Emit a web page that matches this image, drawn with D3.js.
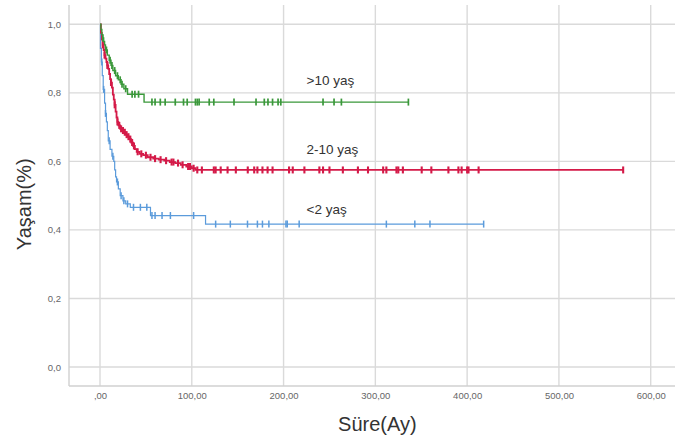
<!DOCTYPE html>
<html>
<head>
<meta charset="utf-8">
<script src="https://cdn.jsdelivr.net/npm/d3@7"></script>
<style>
  html, body { margin: 0; padding: 0; background: #fff; }
  svg { display: block; font-family: Arial, "Liberation Sans", sans-serif; }
</style>
</head>
<body>
<svg id="chart" width="675" height="446"></svg>
<script>
// Kaplan–Meier survival by age group (time in months)
const groups = [">10 yaş", "2-10 yaş", "<2 yaş"];
const colors = ["#3a983a", "#d41a48", "#5b9bdb"];
const strokeWidths = [1.4, 1.8, 1.2];

// step times and survival after each step
const olderTimes = [0, 1, 2, 3, 4, 5, 6, 8, 10, 12, 14, 17, 20, 23, 26, 30, 48];
const olderSurv  = [1.0, 0.985, 0.97, 0.96, 0.95, 0.94, 0.925, 0.91, 0.895, 0.88, 0.865, 0.85, 0.838, 0.825, 0.812, 0.796, 0.773];
const olderEnd = 336;
const olderCensor = [3, 7, 11, 13, 16, 19, 22, 24, 28, 35, 38, 42, 56.6, 60, 65.7, 71, 82, 91, 95, 104, 106, 108,
  119, 124, 146, 170, 179, 183, 188, 194, 197, 243, 255, 263, 336];

const midTimes = [0, 1, 2, 3, 4, 5, 6, 7, 8, 9, 10, 11, 12, 13, 14, 15, 16, 17, 18, 19, 20, 22, 24, 26, 28, 30,
  32, 34, 36, 38, 40, 43, 47, 52, 58, 64, 70, 76, 82, 88, 94, 100, 104];
const midSurv = [1.0, 0.975, 0.955, 0.94, 0.925, 0.91, 0.9, 0.89, 0.88, 0.87, 0.855, 0.84, 0.83, 0.815, 0.795,
  0.78, 0.765, 0.745, 0.728, 0.715, 0.705, 0.695, 0.69, 0.685, 0.678, 0.672, 0.665, 0.655, 0.645, 0.636, 0.628,
  0.622, 0.618, 0.612, 0.608, 0.605, 0.602, 0.598, 0.595, 0.59, 0.585, 0.58, 0.575];
const midEnd = 570;
const midCensor = [3, 5, 8, 12, 16, 19, 21, 23, 25, 27, 29, 31, 33, 35, 37, 41, 45, 50, 55, 60, 66, 72, 78, 80,
  85, 90, 96, 98, 102, 106, 111, 124, 126, 131.5, 139, 148, 161, 168, 171.5, 177, 182.6, 188, 206, 210, 222.7,
  239, 243, 250, 264.6, 281, 292, 308.5, 312, 323, 325, 330, 350.5, 361, 379.6, 390.5, 394, 400, 401.5, 412.5, 570];

const youngTimes = [0, 0.5, 1.5, 2.5, 3.5, 5, 6, 7, 8, 9, 11, 13, 15, 16, 17, 18, 20, 22, 25, 28, 33, 55, 115];
const youngSurv  = [1.0, 0.93, 0.89, 0.85, 0.81, 0.77, 0.74, 0.715, 0.69, 0.66, 0.635, 0.615, 0.6, 0.575, 0.555,
  0.54, 0.52, 0.5, 0.485, 0.476, 0.466, 0.442, 0.417];
const youngEnd = 418;
const youngCensor = [2, 4, 6, 10, 14, 19, 23, 26, 30, 36.5, 44, 51, 56.6, 60, 67.6, 76.7, 102, 126, 142, 160.7,
  171.5, 177, 184, 202.6, 204, 217, 312, 343, 359.5, 418];

// axis ticks and labels
const xTicks = [0, 100, 200, 300, 400, 500, 600];
const xTickLabels = [",00", "100,00", "200,00", "300,00", "400,00", "500,00", "600,00"];
const yTicks = [0, 0.2, 0.4, 0.6, 0.8, 1.0];
const yTickLabels = ["0,0", "0,2", "0,4", "0,6", "0,8", "1,0"];
const xTitle = "Süre(Ay)";
const yTitle = "Yaşam(%)";

const series = [
  { name: groups[0], color: colors[0], sw: strokeWidths[0], times: olderTimes, surv: olderSurv, end: olderEnd, censor: olderCensor },
  { name: groups[1], color: colors[1], sw: strokeWidths[1], times: midTimes, surv: midSurv, end: midEnd, censor: midCensor },
  { name: groups[2], color: colors[2], sw: strokeWidths[2], times: youngTimes, surv: youngSurv, end: youngEnd, censor: youngCensor }
];

const svg = d3.select("#chart");
const frame = { left: 69, right: 675, top: 5, bottom: 386 };

const x = d3.scaleLinear().domain([0, 600]).range([100, 650.7]);
const y = d3.scaleLinear().domain([0, 1]).range([367, 24.3]);

const grid = svg.append("g").attr("stroke", "#dadada").attr("stroke-width", 1.4);
grid.selectAll("line.gx").data(xTicks).join("line")
  .attr("x1", d => x(d)).attr("x2", d => x(d))
  .attr("y1", frame.top).attr("y2", frame.bottom);
grid.selectAll("line.gy").data(yTicks).join("line")
  .attr("x1", frame.left).attr("x2", frame.right)
  .attr("y1", d => y(d)).attr("y2", d => y(d));

// axis frame lines
svg.append("line").attr("x1", frame.left).attr("x2", frame.left)
  .attr("y1", frame.top).attr("y2", frame.bottom)
  .attr("stroke", "#d0d0d0").attr("stroke-width", 1.4);
svg.append("line").attr("x1", frame.left).attr("x2", frame.right)
  .attr("y1", frame.bottom).attr("y2", frame.bottom)
  .attr("stroke", "#d0d0d0").attr("stroke-width", 1.4);

// axes via d3 axis generators (labels only)
const xAxis = d3.axisBottom(x).tickValues(xTicks)
  .tickFormat((d, i) => xTickLabels[i]).tickSize(0).tickPadding(0);
svg.append("g").attr("transform", `translate(0,${frame.bottom + 6})`).call(xAxis)
  .call(g => g.select(".domain").remove())
  .selectAll("text").attr("fill", "#666").attr("font-size", 9.5).attr("dy", "0.71em")
  .attr("font-family", "Arial, 'Liberation Sans', sans-serif");

const yAxis = d3.axisLeft(y).tickValues(yTicks)
  .tickFormat((d, i) => yTickLabels[i]).tickSize(0).tickPadding(0);
svg.append("g").attr("transform", `translate(${frame.left - 8},0)`).call(yAxis)
  .call(g => g.select(".domain").remove())
  .selectAll("text").attr("fill", "#666").attr("font-size", 9.5)
  .attr("font-family", "Arial, 'Liberation Sans', sans-serif");

// axis titles
svg.append("text").attr("x", x(300) + 2).attr("y", 431)
  .attr("text-anchor", "middle").attr("font-size", 20).attr("fill", "#333").text(xTitle);
svg.append("text").attr("transform", `translate(31,${y(0.475)}) rotate(-90)`)
  .attr("text-anchor", "middle").attr("font-size", 20).attr("fill", "#333").text(yTitle);

// survival value at time t for a step series
function survAt(s, t) {
  const i = d3.bisectRight(s.times, t) - 1;
  return s.surv[Math.max(0, i)];
}

// step paths with censor ticks
const line = d3.line().x(d => x(d[0])).y(d => y(d[1])).curve(d3.curveStepAfter);
series.slice().reverse().forEach(s => {
  const pts = s.times.map((t, i) => [t, s.surv[i]]);
  pts.push([s.end, s.surv[s.surv.length - 1]]);
  const g = svg.append("g");
  g.append("path").attr("d", line(pts)).attr("fill", "none")
    .attr("stroke", s.color).attr("stroke-width", s.sw);
  g.selectAll("line").data(s.censor).join("line")
    .attr("x1", d => x(d)).attr("x2", d => x(d))
    .attr("y1", d => y(survAt(s, d)) - 3.5).attr("y2", d => y(survAt(s, d)) + 3.5)
    .attr("stroke", s.color).attr("stroke-width", s.sw + 0.3);
});

// group labels beside the curves
const labelPos = [0.823, 0.622, 0.447];
series.forEach((s, i) => {
  svg.append("text").attr("x", x(225)).attr("y", y(labelPos[i]))
    .attr("font-size", 13.5).attr("fill", "#333").text(s.name);
});
</script>
</body>
</html>
